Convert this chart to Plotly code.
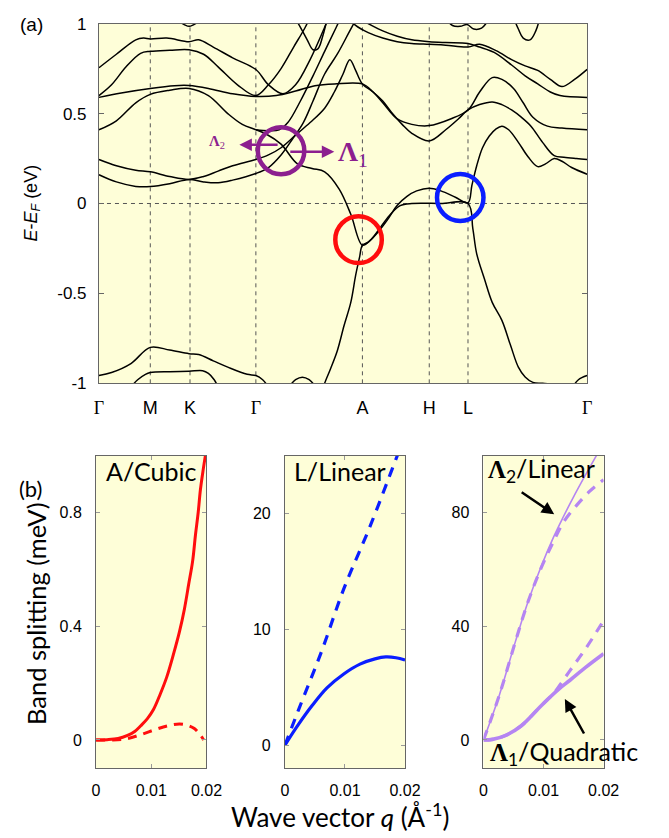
import plotly.graph_objects as go

W, H = 669, 838

# ---------------- (a) band structure ----------------
# high-symmetry points along the k-path (path-length units)
sym_labels = ["Γ", "M", "K", "Γ", "A", "H", "L", "Γ"]
sym_k = [0, 53, 94, 162, 272, 341, 381, 504]

# bands as (k, E - E_F [eV]) control points
band_1 = [(0, 0.755), (18, 0.83), (38, 0.91), (46, 0.92), (53, 0.915), (70, 0.92), (93, 0.90),
          (103, 0.91), (118, 0.87), (138, 0.81), (162, 0.745), (175, 0.66), (190, 0.61),
          (203, 0.66), (218, 0.80), (233, 0.98), (239, 1.06)]
band_2 = [(0, 0.60), (13, 0.66), (28, 0.76), (43, 0.835), (53, 0.846), (73, 0.852), (93, 0.855),
          (108, 0.83), (123, 0.76), (143, 0.66), (162, 0.60), (175, 0.66), (188, 0.75),
          (201, 0.87), (213, 0.98), (219, 1.05)]
band_3 = [(0, 0.59), (23, 0.615), (53, 0.64), (78, 0.655), (93, 0.656), (113, 0.64), (138, 0.61),
          (162, 0.595), (183, 0.60), (203, 0.625), (223, 0.655), (243, 0.665), (272, 0.665),
          (283, 0.62), (293, 0.56), (308, 0.47), (323, 0.44), (341, 0.433), (363, 0.47),
          (381, 0.52), (393, 0.62), (406, 0.70), (416, 0.69), (428, 0.64), (438, 0.56),
          (448, 0.48), (463, 0.43), (478, 0.42), (504, 0.41)]
band_4 = [(0, 0.41), (18, 0.46), (38, 0.56), (53, 0.607), (73, 0.63), (93, 0.64), (113, 0.60),
          (133, 0.50), (148, 0.44), (162, 0.41), (173, 0.385), (188, 0.33), (205, 0.22),
          (220, 0.195), (233, 0.176), (248, 0.08), (260, -0.06), (272, -0.232), (281, -0.20),
          (291, -0.13), (301, -0.06), (311, -0.012), (323, 0.0), (353, 0.0), (381, 0.0),
          (386, -0.14), (390, -0.28), (398, -0.42), (406, -0.55), (416, -0.65), (425, -0.79),
          (433, -0.91), (440, -0.965), (448, -0.995), (458, -1.0), (473, -1.01)]
band_5 = [(162, 0.41), (175, 0.405), (186, 0.41), (195, 0.45), (208, 0.57), (221, 0.71),
          (233, 0.846), (245, 0.98), (251, 1.05)]
band_6 = [(0, 0.245), (18, 0.21), (38, 0.185), (53, 0.176), (73, 0.15), (93, 0.134), (108, 0.15),
          (123, 0.18), (138, 0.21), (162, 0.245), (175, 0.27), (188, 0.31), (203, 0.38),
          (218, 0.45), (233, 0.53), (243, 0.62), (252, 0.72), (259, 0.80), (265, 0.74),
          (272, 0.665), (283, 0.62), (293, 0.57), (303, 0.50), (313, 0.44), (323, 0.39),
          (341, 0.348), (358, 0.41), (371, 0.47), (381, 0.52), (393, 0.55), (406, 0.565),
          (416, 0.55), (426, 0.52), (436, 0.48), (446, 0.43), (458, 0.34), (470, 0.266),
          (480, 0.257), (493, 0.25), (504, 0.245)]
band_7 = [(0, 0.16), (18, 0.12), (38, 0.095), (53, 0.094), (73, 0.11), (93, 0.134), (108, 0.12),
          (123, 0.115), (138, 0.13), (162, 0.167), (175, 0.20), (188, 0.27), (200, 0.36),
          (211, 0.45), (221, 0.57), (233, 0.72), (246, 0.83), (258, 0.95), (266, 1.03)]
band_8 = [(230, -1.06), (233, -1.0), (239, -0.92), (246, -0.82), (253, -0.68), (260, -0.55),
          (265, -0.40), (269, -0.30), (272, -0.232), (278, -0.215), (288, -0.16), (298, -0.09),
          (308, -0.01), (318, 0.04), (328, 0.07), (341, 0.085), (353, 0.07), (368, 0.035),
          (381, 0.004), (385, 0.10), (390, 0.21), (396, 0.31), (403, 0.375), (410, 0.415),
          (416, 0.43), (423, 0.41), (433, 0.34), (443, 0.26), (453, 0.205), (461, 0.22),
          (470, 0.25), (478, 0.235), (488, 0.20), (504, 0.163)]
band_9 = [(253, 1.06), (265, 0.99), (278, 0.95), (293, 0.92), (308, 0.90), (323, 0.89),
          (341, 0.885), (358, 0.88), (381, 0.87), (393, 0.885), (410, 0.85), (426, 0.80),
          (440, 0.765), (453, 0.74), (466, 0.69), (478, 0.65), (491, 0.69), (504, 0.746)]
band_10 = [(263, 1.06), (278, 1.0), (293, 0.96), (308, 0.93), (323, 0.91), (341, 0.90),
           (358, 0.895), (381, 0.89), (393, 0.87), (408, 0.84), (426, 0.77), (440, 0.71),
           (453, 0.665), (466, 0.62), (476, 0.60), (504, 0.59)]
band_11 = [(355, 1.05), (365, 0.99), (373, 0.985), (380, 0.995), (387, 0.97), (395, 0.975),
           (401, 1.01), (408, 1.05)]
band_12 = [(426, 1.06), (433, 0.97), (438, 0.92), (445, 0.91), (451, 0.96), (456, 1.05)]
band_13 = [(199, 1.06), (208, 0.98), (215, 0.91), (221, 0.855), (226, 0.86), (231, 0.93),
           (237, 1.06)]
band_14 = [(83, 1.01), (88, 0.995), (93, 0.985), (98, 0.995), (103, 1.01)]
band_15 = [(0, -0.957), (13, -0.94), (33, -0.89), (53, -0.80), (73, -0.815), (93, -0.835),
           (103, -0.84), (118, -0.875), (133, -0.91), (153, -0.95), (162, -0.957),
           (169, -0.98), (175, -1.02)]
band_16 = [(33, -1.02), (40, -0.98), (48, -0.95), (53, -0.94), (73, -0.935), (93, -0.933),
           (107, -0.93), (113, -0.945), (119, -0.98), (123, -1.02)]
band_17 = [(196, -1.02), (203, -0.98), (210, -0.966), (217, -0.98), (224, -1.02)]
band_18 = [(489, -1.02), (495, -0.98), (504, -0.957)]

bands = [band_1, band_2, band_3, band_4, band_5, band_6, band_7, band_8, band_9,
         band_10, band_11, band_12, band_13, band_14, band_15, band_16, band_17, band_18]

e_ticks = [-1, -0.5, 0, 0.5, 1]
e_ticktext = ["-1", "-0.5", "0", "0.5", "1"]

# ---------------- (b) band splitting vs q ----------------
q_ticks = [0, 0.01, 0.02]
q_ticktext = ["0", "0.01", "0.02"]

a_solid_q = [0, 0.002, 0.004, 0.0057, 0.0070, 0.0081, 0.0093, 0.0104, 0.0116, 0.0128, 0.0140,
             0.0151, 0.0160, 0.0168, 0.0175, 0.0180, 0.0185, 0.0189, 0.0194, 0.0198]
a_solid_s = [0, 0.001, 0.005, 0.016, 0.03, 0.05, 0.075, 0.107, 0.16, 0.221, 0.30,
             0.38, 0.46, 0.55, 0.63, 0.72, 0.80, 0.88, 0.95, 1.0]
a_dash_q = [0, 0.003, 0.0057, 0.008, 0.0105, 0.013, 0.0151, 0.0165, 0.0178, 0.0187, 0.0195]
a_dash_s = [0, 0.0, 0.005, 0.018, 0.035, 0.05, 0.056, 0.052, 0.04, 0.022, 0.0]

l_solid_q = [0, 0.002, 0.0045, 0.007, 0.0098, 0.0125, 0.015, 0.0168, 0.0185, 0.02]
l_solid_s = [0, 1.6, 3.4, 4.95, 6.15, 7.0, 7.45, 7.62, 7.55, 7.35]
l_dash_q = [0, 0.0023, 0.0061, 0.0098, 0.0141, 0.0179, 0.019]
l_dash_s = [0, 3.1, 8.1, 13.5, 18.8, 23.9, 25.4]

lam2_solid_q = [0, 0.0026, 0.0053, 0.0074, 0.0096, 0.0117, 0.0133, 0.0150, 0.0168, 0.0188]
lam2_solid_s = [0, 15.5, 34.5, 48.5, 61.0, 71.5, 78.5, 85.5, 92.5, 100]
lam2_dash_q = [0, 0.0026, 0.0053, 0.0074, 0.0096, 0.0117, 0.0133, 0.0155, 0.0177, 0.02]
lam2_dash_s = [0, 15.5, 34.5, 48.5, 60.5, 70.0, 76.5, 82.5, 87.5, 91.5]
lam1_solid_q = [0, 0.0015, 0.0037, 0.0063, 0.009, 0.0106, 0.0125, 0.0144, 0.0170, 0.020]
lam1_solid_s = [0, 0.2, 1.6, 5.0, 10.7, 14.1, 17.8, 21.0, 25.5, 30.3]
lam1_dash_q = [0, 0.0015, 0.0037, 0.0063, 0.009, 0.0106, 0.0117, 0.0144, 0.0171, 0.02]
lam1_dash_s = [0, 0.2, 1.6, 5.0, 10.7, 14.1, 16.4, 24.4, 32.4, 42.0]

RED = "#ff0d0d"
BLUE = "#0a1eff"
VIOLET = "#b585f2"
PURPLE = "#8c1f8f"
BG = "#fefed8"
FRAME = "#666666"
SANS = "Liberation Sans"
CAL = "Lato"
SERIF = "Liberation Serif"


def xdom(left, right):
    return [left / W, right / W]


def ydom(top, bottom):
    return [1 - bottom / H, 1 - top / H]


def px(x):
    return x / W


def py(y):
    return 1 - y / H


fig = go.Figure()

for b in bands:
    k, e = zip(*b)
    fig.add_trace(go.Scatter(x=k, y=e, mode="lines", xaxis="x", yaxis="y",
                             line=dict(color="black", width=1.5, shape="spline", smoothing=1),
                             showlegend=False, hoverinfo="skip"))


def curve(xs, ys, ax, color, width, dash=None):
    fig.add_trace(go.Scatter(x=xs, y=ys, mode="lines", xaxis="x" + ax, yaxis="y" + ax,
                             line=dict(color=color, width=width, shape="spline",
                                       dash=dash),
                             showlegend=False, hoverinfo="skip"))


curve(a_dash_q, a_dash_s, "2", RED, 3, "9px,7px")
curve(a_solid_q, a_solid_s, "2", RED, 3)
curve(l_dash_q, l_dash_s, "3", BLUE, 3.2, "10px,8px")
curve(l_solid_q, l_solid_s, "3", BLUE, 3.2)
curve(lam2_dash_q, lam2_dash_s, "4", VIOLET, 3.2, "10px,8px")
curve(lam2_solid_q, lam2_solid_s, "4", VIOLET, 1.6)
curve(lam1_dash_q, lam1_dash_s, "4", VIOLET, 3.2, "10px,8px")
curve(lam1_solid_q, lam1_solid_s, "4", VIOLET, 3.6)

shapes = []
# dashed guides at the high-symmetry points and at the Fermi level
for kv in sym_k[1:-1]:
    shapes.append(dict(type="line", xref="x", yref="y", x0=kv, x1=kv, y0=-1, y1=1,
                       line=dict(color="#555555", width=1, dash="4px,4px"), layer="below"))
shapes.append(dict(type="line", xref="x", yref="y", x0=0, x1=504, y0=0, y1=0,
                   line=dict(color="#555555", width=1, dash="4px,4px"), layer="below"))

# highlighted crossings
for (kc, ec, col) in [(188, 0.293, PURPLE), (268, -0.201, RED), (373, 0.033, BLUE)]:
    shapes.append(dict(type="circle", xref="x", yref="y", x0=kc - 24, x1=kc + 24,
                       y0=ec - 24 / 184, y1=ec + 24 / 184, line=dict(color=col, width=4.5)))

ann = []
# purple arrows marking the two directions
ann.append(dict(x=145, y=0.326, ax=186, ay=0.326, xref="x", yref="y", axref="x", ayref="y",
                text="", showarrow=True, arrowhead=2, arrowsize=1, arrowwidth=2.5,
                arrowcolor=PURPLE))
ann.append(dict(x=243, y=0.288, ax=196, ay=0.288, xref="x", yref="y", axref="x", ayref="y",
                text="", showarrow=True, arrowhead=2, arrowsize=1, arrowwidth=2.5,
                arrowcolor=PURPLE))
ann.append(dict(x=122, y=0.342, xref="x", yref="y", showarrow=False, yanchor="middle",
                text="<b>Λ</b><sub>2</sub>", font=dict(family=SERIF, size=15, color=PURPLE)))
ann.append(dict(x=262, y=0.277, xref="x", yref="y", showarrow=False, yanchor="middle",
                text="<b>Λ</b><sub>1</sub>", font=dict(family=SERIF, size=28, color=PURPLE)))

# panel letters
ann.append(dict(x=px(13), y=py(16), xref="paper", yref="paper", xanchor="left",
                yanchor="middle", showarrow=False, text="(a)",
                font=dict(family=SANS, size=19, color="black")))
ann.append(dict(x=px(12), y=py(491), xref="paper", yref="paper", xanchor="left",
                yanchor="middle", showarrow=False, text="(b)",
                font=dict(family=CAL, size=22, color="black")))

# axis title of (a)
ann.append(dict(x=px(28), y=py(199), xref="paper", yref="paper", textangle=-90,
                xanchor="center", yanchor="middle", showarrow=False,
                text="<i>E</i>-<i>E</i><sub><i>F</i></sub> (eV)",
                font=dict(family=SANS, size=18, color="black")))

# axis titles of (b)
ann.append(dict(x=px(32), y=py(618), xref="paper", yref="paper", textangle=-90,
                xanchor="center", yanchor="middle", showarrow=False,
                text="Band splitting (meV)", font=dict(family=CAL, size=25.5, color="black")))
ann.append(dict(x=px(346), y=py(825), xref="paper", yref="paper",
                xanchor="center", yanchor="middle", showarrow=False,
                text="Wave vector <i>q</i> (Å<sup>-1</sup>)",
                font=dict(family=CAL, size=26, color="black")))

# panel captions
cap_font = dict(family=CAL, size=25, color="black")
ann.append(dict(x=px(102), y=py(473), xref="paper", yref="paper", xanchor="left",
                yanchor="middle", showarrow=False, text="A/Cubic", font=cap_font))
ann.append(dict(x=px(296), y=py(473), xref="paper", yref="paper", xanchor="left",
                yanchor="middle", showarrow=False, text="L/Linear", font=cap_font))
ann.append(dict(x=px(497), y=py(472), xref="paper", yref="paper", xanchor="left",
                yanchor="middle", showarrow=False,
                text="<span style='font-family:Liberation Serif'><b>Λ</b></span><sub>2</sub>/Linear",
                font=cap_font))
ann.append(dict(x=px(499), y=py(761), xref="paper", yref="paper", xanchor="left",
                yanchor="middle", showarrow=False,
                text="<span style='font-family:Liberation Serif'><b>Λ</b></span><sub>1</sub>/Quadratic",
                font=cap_font))
# pointers to the Λ curves
ann.append(dict(x=px(567), y=py(517), xref="paper", yref="paper", ax=-34, ay=-23,
                text="", showarrow=True, arrowhead=2, arrowsize=1, arrowwidth=2.5,
                arrowcolor="black"))
ann.append(dict(x=px(578), y=py(706), xref="paper", yref="paper", ax=20, ay=36,
                text="", showarrow=True, arrowhead=2, arrowsize=1, arrowwidth=2.5,
                arrowcolor="black"))

gamma = "<span style='font-family:Liberation Serif'>Γ</span>"
k_ticktext = [gamma if s == "Γ" else s for s in sym_labels]

frame = dict(showline=True, mirror="ticks", linecolor=FRAME, linewidth=1, showgrid=False,
             zeroline=False)

layout_axes = dict(
    xaxis=dict(domain=xdom(97, 601), range=[0, 504], anchor="y", tickvals=sym_k,
               ticktext=k_ticktext, ticks="", ticklabelstandoff=8,
               tickfont=dict(family=SANS, size=18, color="black"), **frame),
    yaxis=dict(domain=ydom(15, 383), range=[-1, 1], anchor="x", tickvals=e_ticks,
               ticktext=e_ticktext, ticks="inside", ticklen=5, tickcolor=FRAME,
               ticklabelstandoff=8, tickfont=dict(family=SANS, size=17, color="black"), **frame),
)

b_panels = [("2", (94, 208), [-0.1, 1.0], [0, 0.4, 0.8], ["0", "0.4", "0.8"]),
            ("3", (289, 413), [-2, 25], [0, 10, 20], ["0", "10", "20"]),
            ("4", (494, 618), [-10, 100], [0, 40, 80], ["0", "40", "80"])]
for ax, (l, r), yr, yt, ytt in b_panels:
    layout_axes["xaxis" + ax] = dict(domain=xdom(l, r), range=[0, 0.02], anchor="y" + ax,
                                     tickvals=q_ticks, ticktext=q_ticktext, ticks="inside",
                                     ticklen=4, tickcolor="#999999", ticklabelstandoff=7,
                                     tickfont=dict(family=SANS, size=16, color="black"), **frame)
    layout_axes["yaxis" + ax] = dict(domain=ydom(457, 777), range=yr, anchor="x" + ax,
                                     tickvals=yt, ticktext=ytt, ticks="inside", ticklen=4,
                                     tickcolor="#999999", ticklabelstandoff=10,
                                     tickfont=dict(family=SANS, size=16, color="black"), **frame)

fig.update_layout(width=W, height=H, margin=dict(l=0, r=0, t=0, b=0),
                  paper_bgcolor="white", plot_bgcolor=BG, showlegend=False,
                  shapes=shapes, annotations=ann, **layout_axes)

fig.write_html("out.html")
